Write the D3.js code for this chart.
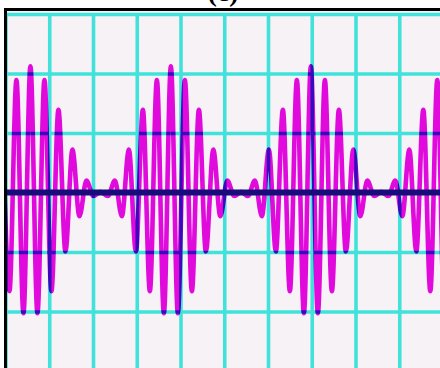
<!DOCTYPE html>
<html>
<head>
<meta charset="utf-8">
<script src="https://cdn.jsdelivr.net/npm/d3@7"></script>
<style>
  html, body { margin: 0; padding: 0; background: #fff; }
  svg { display: block; }
</style>
</head>
<body>
<div id="wrap"></div>
<script>
// scope trace, units are screen divisions
var xTicks = [0, 1, 2, 3, 4, 5, 6, 7, 8, 9, 10];
var yTicks = [-3, -2, -1, 0, 1, 2, 3];

// peaks and troughs of the trace
var tDiv = [
  -0.07, 0.09, 0.25, 0.41, 0.57, 0.73, 0.89, 1.05, 1.21, 1.37, 1.53, 1.69, 1.85, 2.01, 2.17,
  2.34, 2.50, 2.66, 2.82, 2.98, 3.14, 3.30, 3.46, 3.62, 3.78, 3.94, 4.10, 4.26, 4.42, 4.58,
  4.75, 4.91, 5.07, 5.23, 5.39,
  5.54, 5.70, 5.86, 6.02, 6.18, 6.34, 6.50, 6.66, 6.82, 6.98, 7.14, 7.30, 7.46, 7.62, 7.78,
  7.95, 8.11, 8.27, 8.43, 8.59,
  8.75, 8.91, 9.07, 9.23, 9.39, 9.55, 9.71, 9.87, 10.03, 10.19
];
var volts = [
  1.39, -1.66, 1.89, -2.03, 2.12, -2.03, 1.89, -1.66, 1.39, -0.99, 0.72, -0.40, 0.20, -0.06, 0.01,
  -0.06, 0.20, -0.40, 0.72, -0.99, 1.39, -1.66, 1.89, -2.03, 2.12, -2.03, 1.89, -1.66, 1.39, -0.99,
  0.72, -0.40, 0.20, -0.06, 0.01,
  -0.06, 0.20, -0.40, 0.72, -0.99, 1.39, -1.66, 1.89, -2.03, 2.12, -2.03, 1.89, -1.66, 1.39, -0.99,
  0.72, -0.40, 0.20, -0.06, 0.01,
  -0.06, 0.20, -0.40, 0.72, -0.99, 1.39, -1.66, 1.89, -2.03, 2.12
];
var title = "(c)";

var w = 440;
var h = 368;
var padLeft = 7, padTop = 11;

var svg = d3.select("#wrap").append("svg").attr("width", w).attr("height", h);

var x = d3.scaleLinear().domain([0, 10]).range([5.5, 443]);
var y = d3.scaleLinear().domain([-3, 3]).range([371, 14]);

svg.append("text")
  .attr("x", 223).attr("y", 1)
  .attr("text-anchor", "middle")
  .style("font-family", "'Liberation Serif', 'Times New Roman', serif")
  .style("font-weight", "bold")
  .style("font-size", "28px")
  .text(title);

svg.append("defs").append("clipPath").attr("id", "clip")
  .append("rect").attr("x", padLeft).attr("y", padTop).attr("width", w - padLeft).attr("height", h - padTop);

svg.append("rect")
  .attr("x", padLeft).attr("y", padTop).attr("width", w - padLeft).attr("height", h - padTop)
  .attr("fill", "#f6f2f6");

var plot = svg.append("g").attr("clip-path", "url(#clip)");

// grid from the axes
var gx = plot.append("g")
  .attr("transform", "translate(0," + y(-3) + ")")
  .call(d3.axisBottom(x).tickValues(xTicks).tickSize(-(y(-3) - y(3))).tickFormat(""));
var gy = plot.append("g")
  .attr("transform", "translate(" + x(0) + ",0)")
  .call(d3.axisLeft(y).tickValues(yTicks).tickSize(-(x(10) - x(0))).tickFormat(""));
[gx, gy].forEach(function(g){
  g.select(".domain").remove();
  g.selectAll(".tick line").attr("stroke", "#40e2da").attr("stroke-width", 3.6);
});

var trace = d3.line()
  .x(function(d, i){ return x(tDiv[i]); })
  .y(function(d){ return y(d); })
  .curve(d3.curveMonotoneX);

plot.append("path")
  .datum(volts)
  .attr("d", trace)
  .attr("fill", "none")
  .attr("stroke", "#e10adc")
  .attr("stroke-width", 4.6)
  .attr("stroke-linejoin", "round")
  .style("mix-blend-mode", "multiply");

// zero line
plot.append("line")
  .attr("x1", x(0)).attr("x2", x(10))
  .attr("y1", y(0)).attr("y2", y(0))
  .attr("stroke", "#160c7a")
  .attr("stroke-width", 6);

// frame
svg.append("rect")
  .attr("x", 5.5).attr("y", 9.5).attr("width", 600).attr("height", 600)
  .attr("fill", "none")
  .attr("stroke", "#000")
  .attr("stroke-width", 3);
</script>
</body>
</html>
